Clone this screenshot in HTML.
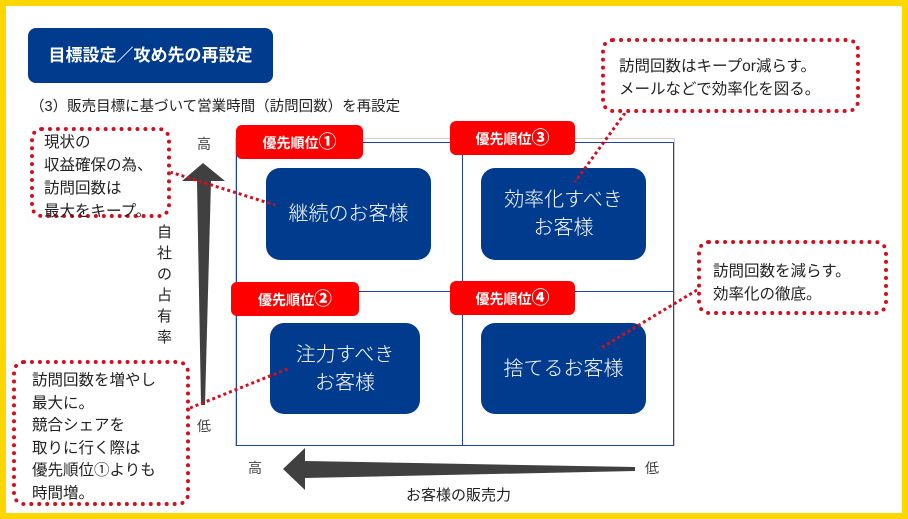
<!DOCTYPE html>
<html><head><meta charset="utf-8"><style>
html,body{margin:0;padding:0;}
body{width:908px;height:519px;position:relative;overflow:hidden;background:#fff;font-family:"Liberation Sans","Noto Sans CJK JP",sans-serif;}
.a{position:absolute;}
.frame{left:0;top:0;width:896px;height:507px;border:6px solid #ffd700;}
.hdr{left:28px;top:28px;width:245px;height:55px;background:#003b8e;border-radius:8px;color:#fff;font-weight:bold;font-size:17px;line-height:55px;text-align:center;}
.sub{left:30px;top:95px;font-size:14.5px;color:#222;}
.red{background:#f00;color:#fff;font-weight:bold;font-size:14px;border-radius:6px;line-height:34px;height:34px;text-align:center;}
.red b{font-size:18px;}
.blue{background:#003b8e;color:#fff;border-radius:14px;font-size:20px;display:flex;align-items:center;justify-content:center;text-align:center;line-height:28px;font-weight:300;}
.co{border:4px dotted #d01020;border-radius:12px;background:#fff;font-size:15.5px;line-height:23px;color:#222;box-sizing:border-box;}
.t{font-size:14px;color:#444;}
</style></head><body>
<div class="a frame"></div>
<div class="a hdr">目標設定／攻め先の再設定</div>
<div class="a sub">（3）販売目標に基づいて営業時間（訪問回数）を再設定</div>

<div class="a" style="left:235px;top:138px;width:440px;height:308px;border:1px solid #ccc;box-sizing:border-box;"></div>
<div class="a" style="left:236px;top:142px;width:438px;height:304px;border:1px solid #2040b0;box-sizing:border-box;"></div>
<div class="a" style="left:462px;top:142px;width:1px;height:304px;background:#2040b0;"></div>
<div class="a" style="left:236px;top:291px;width:438px;height:1px;background:#2040b0;"></div>

<div class="a red" style="left:236px;top:125px;width:127px;">優先順位<b>①</b></div>
<div class="a red" style="left:450px;top:121px;width:125px;">優先順位<b>③</b></div>
<div class="a red" style="left:231px;top:282px;width:128px;">優先順位<b>②</b></div>
<div class="a red" style="left:450px;top:281px;width:125px;">優先順位<b>④</b></div>

<div class="a blue" style="left:266px;top:168px;width:165px;height:92px;">継続のお客様</div>
<div class="a blue" style="left:481px;top:168px;width:165px;height:92px;">効率化すべき<br>お客様</div>
<div class="a blue" style="left:270px;top:323px;width:150px;height:91px;">注力すべき<br>お客様</div>
<div class="a blue" style="left:481px;top:323px;width:165px;height:91px;">捨てるお客様</div>

<svg class="a" style="left:0;top:0" width="908" height="519">
<polygon points="203,163 225,181 211,181 205,405 201,405 197,181 182,181" fill="#404040"/>
<polygon points="283,469 305,448 305,461 635,467 635,471 305,478 305,490" fill="#404040"/>
<g stroke="#d01020" stroke-width="3" stroke-dasharray="3,3">
<line x1="170" y1="172" x2="275" y2="205"/>
<line x1="625" y1="113" x2="575" y2="182"/>
<line x1="697" y1="290" x2="601" y2="348"/>
<line x1="190" y1="408" x2="290" y2="368"/>
</g>
</svg>
<div class="a t" style="left:197px;top:134px;">高</div>
<div class="a t" style="left:197px;top:416px;">低</div>
<div class="a t" style="left:248px;top:458px;">高</div>
<div class="a t" style="left:645px;top:458px;">低</div>
<div class="a" style="left:157px;top:222px;width:18px;font-size:15px;line-height:21px;color:#222;">自社の占有率</div>
<div class="a" style="left:406px;top:484px;font-size:15px;color:#222;">お客様の販売力</div>

<div class="a co" style="left:30px;top:127px;width:141px;height:91px;padding:0 0 0 10px;line-height:23px;">現状の<br>収益確保の為、<br>訪問回数は<br>最大をキープ。</div>
<div class="a co" style="left:601px;top:38px;width:259px;height:75px;padding:13px 0 0 14px;">訪問回数はキープor減らす。<br>メールなどで効率化を図る。</div>
<div class="a co" style="left:697px;top:240px;width:191px;height:75px;padding:16px 0 0 12px;">訪問回数を減らす。<br>効率化の徹底。</div>
<div class="a co" style="left:12px;top:360px;width:178px;height:146px;padding:6px 0 0 16px;line-height:22.5px;">訪問回数を増やし<br>最大に。<br>競合シェアを<br>取りに行く際は<br>優先順位①よりも<br>時間増。</div>
</body></html>
